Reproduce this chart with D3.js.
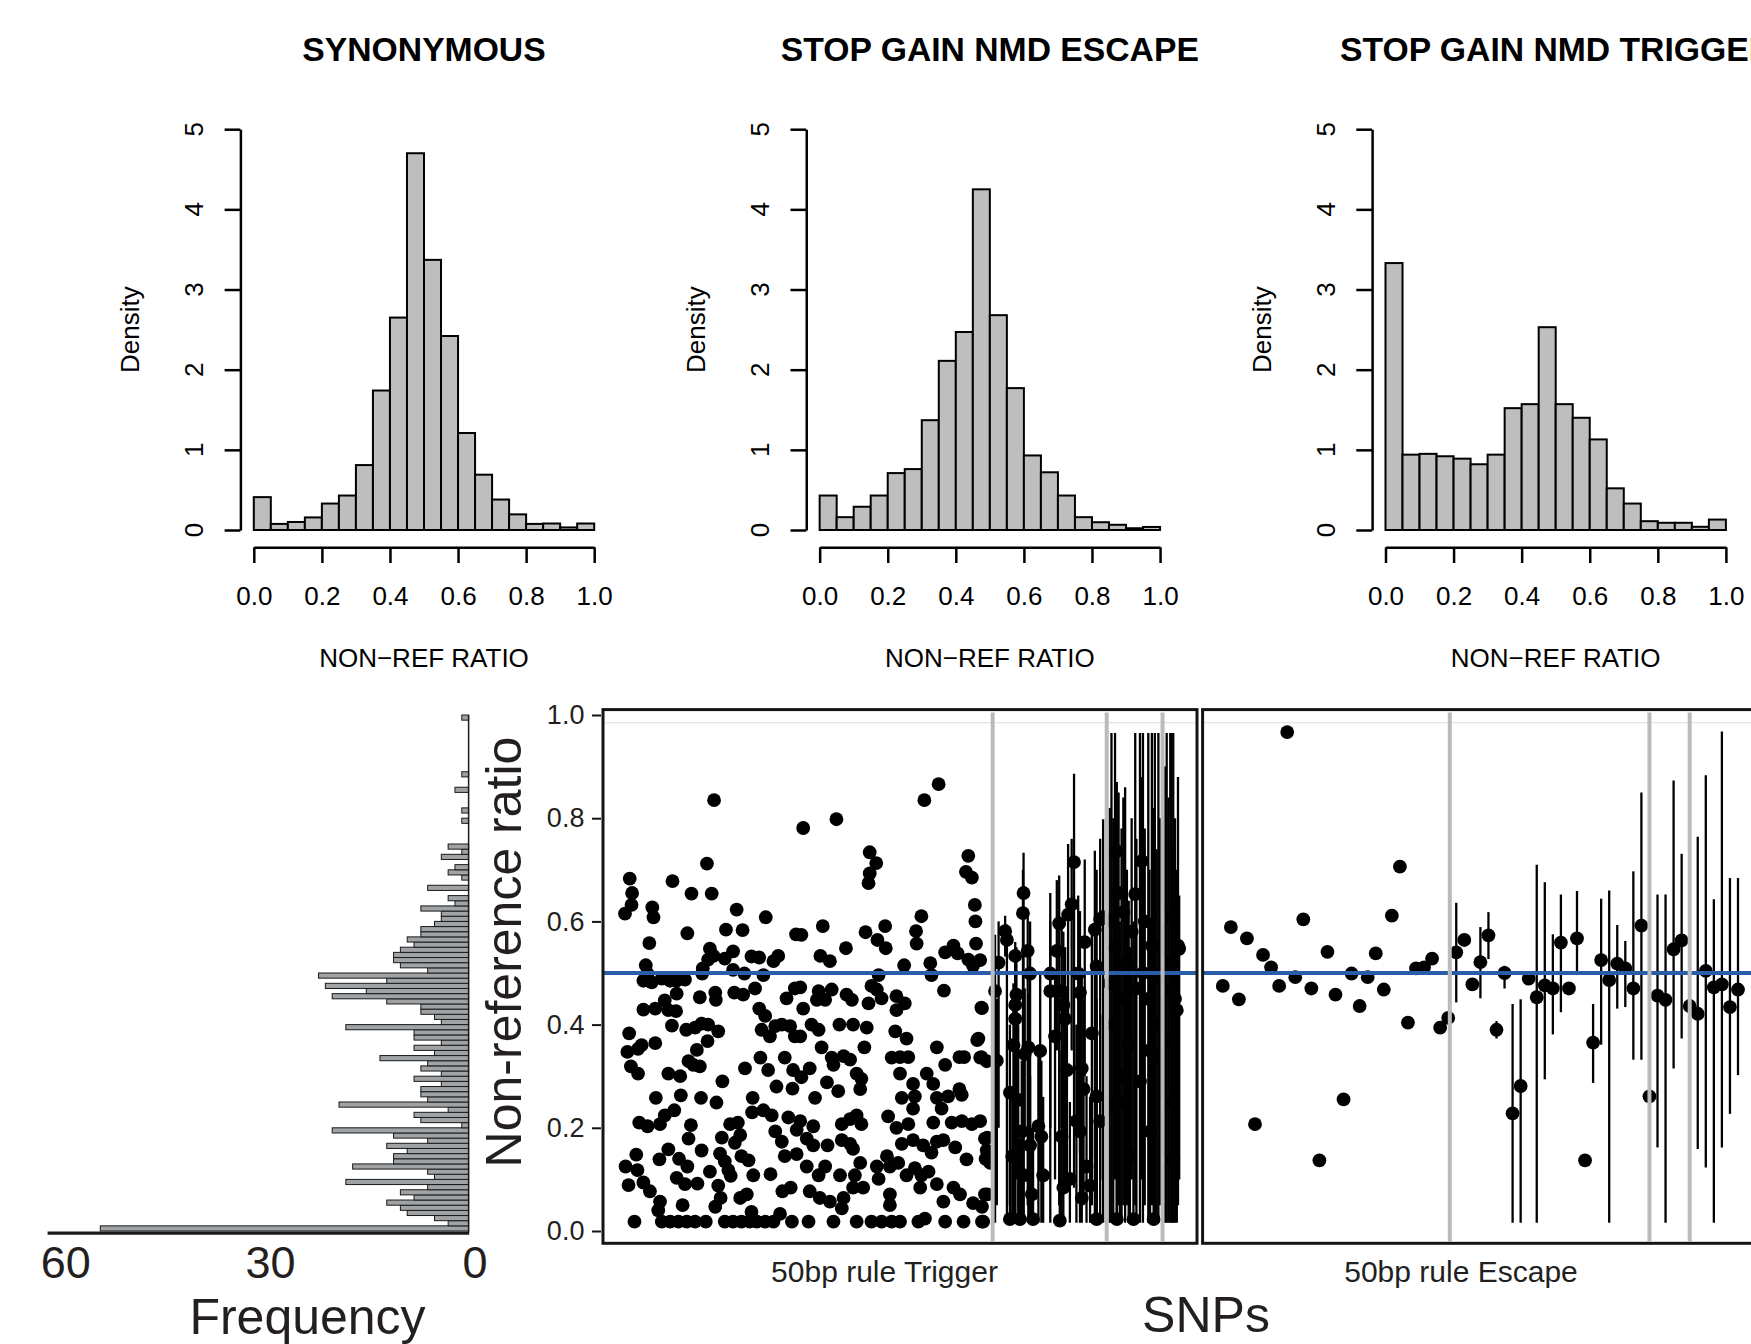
<!DOCTYPE html>
<html>
<head>
<meta charset="utf-8">
<script src="https://cdn.jsdelivr.net/npm/d3@7"></script>
<style>
html,body{margin:0;padding:0;background:#fff;}
svg{display:block;font-family:"Liberation Sans",Arial,Helvetica,sans-serif;}
</style>
</head>
<body>
<div id="fig"></div>
<script>
// ---- top row: density histograms, bins of 0.05 ----
const binStarts = [0,0.05,0.10,0.15,0.20,0.25,0.30,0.35,0.40,0.45,0.50,0.55,0.60,0.65,0.70,0.75,0.80,0.85,0.90,0.95];
const histTitles = ["SYNONYMOUS","STOP GAIN NMD ESCAPE","STOP GAIN NMD TRIGGER"];
const densSyn = [0.41,0.076,0.10,0.157,0.33,0.43,0.81,1.74,2.65,4.70,3.37,2.42,1.21,0.69,0.38,0.195,0.076,0.081,0.032,0.081];
const densEsc = [0.43,0.16,0.29,0.43,0.71,0.76,1.37,2.11,2.47,4.25,2.68,1.77,0.93,0.72,0.43,0.16,0.097,0.065,0.022,0.038];
const densTrig = [3.33,0.94,0.95,0.92,0.89,0.82,0.94,1.52,1.57,2.53,1.57,1.40,1.13,0.52,0.33,0.11,0.09,0.09,0.04,0.13];
const densTicks = [0,1,2,3,4,5];
const ratioTicks = [0,0.2,0.4,0.6,0.8,1.0];

// ---- bottom left: frequency of non-reference ratio, bins of 0.01 ----
const freqCounts = [54,3,5,9,10,12,8,10,6,18, 5,6,17,11,11,9,12,6,11,20,
  1,7,8,3,19,6,7,7,4,8, 4,7,6,13,5,8,4,8,8,18,
  4,5,7,7,12,20,15,21,12,22, 6,10,11,11,10,8,9,7,7,5,
  4,4,7,2,3,0,6,0,1,3, 2,0,4,1,3,0,0,0,0,1,
  0,1,0,0,0,2,0,0,1,0, 0,0,0,0,0,0,0,0,0,1];
const freqTicks = [0,30,60];

// ---- 50bp rule Trigger: [SNP rank (0-100), ratio] ----
const trigPoints = [
[18.7,.835],[17.5,.712],[4.5,.683],[4.9,.655],[4.8,.632],[3.7,.615],[11.7,.678],[14.9,.654],[18.3,.654],[8.3,.627],
[8.5,.608],[22.5,.623],[27.4,.608],[14.2,.577],[20.7,.584],[23.5,.583],[7.8,.558],[32.5,.575],[18.0,.547],[18.6,.533],
[17.7,.526],[21.9,.542],[20.5,.528],[25.0,.532],[26.3,.530],[28.7,.523],[29.5,.533],[7.2,.515],[7.5,.499],[16.8,.509],
[21.9,.506],[23.8,.499],[27.0,.496],[6.8,.485],[8.2,.482],[9.9,.489],[11.3,.485],[12.4,.485],[13.8,.487],[16.7,.499],
[12.4,.460],[16.3,.453],[18.9,.462],[19.0,.448],[22.1,.462],[23.6,.458],[25.6,.470],[32.3,.470],[30.9,.451],[10.4,.447],
[6.8,.429],[8.8,.431],[11.0,.428],[12.3,.426],[26.3,.431],[27.3,.417],[11.6,.398],[14.0,.390],[15.5,.394],[16.6,.402],
[17.7,.400],[19.4,.387],[26.7,.390],[28.1,.377],[29.0,.397],[30.1,.400],[31.5,.397],[32.3,.377],[4.4,.383],[4.1,.347],
[5.9,.353],[6.5,.360],[8.8,.364],[15.8,.351],[17.6,.368],[4.7,.319],[5.9,.305],[14.4,.329],[15.2,.322],[16.3,.319],
[26.5,.336],[27.8,.312],[30.6,.336],[32.0,.312],[23.9,.315],[11.0,.305],[13.0,.300],[20.1,.290],[29.2,.280],[31.9,.276],
[8.9,.258],[13.1,.263],[16.5,.258],[19.1,.249],[25.2,.258],[25.1,.230],[27.0,.234],[28.4,.224],[6.1,.210],[7.5,.203],
[9.6,.207],[10.4,.224],[12.0,.234],[14.8,.205],[14.4,.179],[21.4,.207],[22.7,.210],[23.1,.186],[22.2,.171],[20.0,.181],
[29.0,.193],[30.1,.173],[31.2,.220],[32.6,.196],[5.6,.148],[3.8,.125],[5.8,.118],[4.3,.089],[6.8,.094],[7.9,.077],
[9.5,.139],[11.0,.158],[12.8,.140],[14.2,.125],[12.4,.103],[13.8,.091],[15.9,.092],[16.6,.156],[18.0,.115],[19.7,.150],
[20.5,.135],[21.1,.118],[21.5,.107],[23.3,.145],[24.5,.137],[25.3,.108],[28.2,.110],[19.4,.088],[19.8,.064],[23.1,.064],
[24.2,.071],[30.6,.145],[32.6,.149],[30.2,.077],[31.6,.084],[9.6,.057],[9.3,.040],[13.4,.050],[29.8,.033],[25.0,.037],
[18.9,.047],[5.3,.018],[9.9,.018],[11.3,.018],[12.7,.018],[14.1,.018],[15.5,.018],[17.3,.018],[20.5,.018],[21.9,.018],
[23.3,.018],[24.7,.018],[25.9,.018],[27.3,.018],[28.7,.018],[31.8,.018],
[33.7,.781],[39.3,.798],[54.1,.835],[56.5,.866],[44.9,.734],[46.0,.713],[44.9,.693],[44.7,.674],[61.5,.727],[61.1,.696],
[62.1,.685],[62.6,.632],[62.7,.600],[62.8,.557],[53.6,.610],[52.7,.581],[52.8,.557],[37.0,.591],[40.9,.548],[44.2,.579],
[46.2,.564],[47.5,.591],[47.6,.548],[33.4,.574],[36.6,.533],[38.2,.523],[50.7,.515],[55.1,.519],[55.3,.496],[57.6,.540],
[59.0,.553],[59.7,.538],[61.5,.526],[62.3,.514],[63.5,.525],[46.4,.496],[33.2,.472],[36.3,.465],[36.0,.448],[37.4,.448],
[38.5,.468],[41.0,.458],[41.9,.448],[45.2,.475],[46.1,.468],[46.9,.451],[44.7,.441],[49.4,.455],[50.8,.441],[49.4,.428],
[57.4,.466],[63.8,.432],[33.7,.431],[35.1,.400],[36.3,.390],[39.8,.400],[42.1,.400],[44.4,.394],[49.2,.387],[51.1,.373],
[33.2,.377],[36.8,.356],[44.0,.356],[38.5,.336],[40.5,.339],[41.6,.332],[38.8,.322],[48.6,.336],[50.0,.337],[51.4,.337],
[50.0,.305],[56.2,.356],[57.6,.322],[60.0,.337],[60.8,.337],[63.2,.373],[63.5,.336],[64.6,.329],[34.8,.315],[33.4,.298],
[37.7,.288],[39.6,.271],[42.7,.305],[43.5,.295],[43.3,.275],[52.2,.285],[54.5,.305],[55.6,.285],[35.7,.258],[50.3,.258],
[52.5,.261],[52.2,.237],[56.2,.258],[57.0,.237],[58.1,.261],[60.0,.275],[60.4,.264],[33.2,.213],[35.4,.203],[34.3,.179],
[35.4,.166],[40.2,.207],[41.6,.217],[42.7,.224],[43.5,.207],[40.2,.176],[41.6,.169],[42.1,.159],[37.8,.166],[48.0,.222],
[49.4,.200],[51.4,.207],[50.3,.169],[52.2,.176],[53.9,.166],[55.3,.152],[56.2,.173],[57.3,.176],[55.6,.210],[58.7,.210],
[60.4,.213],[62.1,.207],[63.5,.213],[59.3,.162],[61.2,.139],[64.3,.179],[64.6,.156],[65.2,.132],[34.3,.125],[36.3,.108],
[37.4,.125],[39.9,.108],[43.3,.132],[42.4,.108],[46.1,.125],[46.4,.101],[47.8,.145],[48.3,.125],[49.7,.132],[51.1,.108],
[52.5,.122],[53.6,.108],[54.8,.115],[34.8,.077],[36.5,.064],[38.2,.057],[40.5,.064],[42.1,.084],[43.8,.084],[48.3,.071],
[48.3,.050],[53.4,.084],[56.2,.091],[57.3,.057],[59.0,.084],[60.1,.071],[62.3,.054],[63.8,.047],[64.3,.071],[40.2,.044],
[34.6,.018],[38.8,.018],[42.7,.018],[45.2,.018],[46.9,.018],[48.6,.018],[50.0,.018],[53.1,.018],[54.2,.024],[57.6,.018],
[60.7,.018],[63.8,.018],[63.7,.433],[63.0,.370],[63.7,.337],[64.7,.181],[64.4,.140],[64.7,.071],[64.0,.018]
];
// low-coverage Trigger SNPs with intervals: [rank, ratio, low, high]
const trigErr = [
[66.0,.465,.016,.574],[66.3,.330,.050,.450],[66.6,.520,.200,.600],
[67.7,.581,.532,.611],[68.0,.564,.016,.594],[69.4,.533,.016,.560],[69.6,.458,.100,.550],[69.4,.438,.016,.520],[69.4,.411,.200,.550],
[70.8,.655,.016,.733],[70.7,.616,.300,.700],[71.5,.543,.050,.620],[71.9,.499,.016,.600],[69.1,.360,.016,.480],[71.0,.343,.200,.470],
[71.6,.356,.016,.460],[68.5,.268,.050,.400],[69.9,.254,.016,.400],[68.9,.145,.016,.280],[70.8,.108,.016,.230],[70.5,.193,.016,.330],
[71.9,.166,.016,.300],[72.2,.071,.016,.200],[68.5,.023,.016,.150],[70.2,.023,.016,.180],[72.4,.023,.016,.200],
[73.6,.349,.100,.500],[73.3,.203,.016,.350],[73.8,.183,.016,.330],[74.1,.108,.016,.260],[75.3,.499,.016,.655],[75.3,.465,.200,.600],
[76.1,.377,.100,.500],[76.4,.543,.350,.680],[76.8,.596,.050,.689],[77.2,.465,.200,.600],[77.5,.438,.200,.580],[77.8,.411,.100,.550],
[78.3,.613,.400,.750],[78.9,.633,.350,.760],[79.3,.715,.084,.886],[77.2,.183,.016,.350],[78.1,.312,.100,.470],[78.6,.101,.016,.250],
[77.5,.084,.016,.220],[76.9,.020,.016,.180],
[80.0,.499,.200,.650],[80.3,.462,.150,.620],[80.6,.315,.050,.500],[80.9,.275,.050,.450],[79.7,.213,.016,.400],[80.3,.193,.016,.370],
[81.4,.125,.016,.300],[82.0,.088,.016,.260],[80.6,.064,.016,.250],[81.1,.560,.300,.720],[82.8,.584,.016,.737],[83.7,.604,.100,.760],
[83.1,.513,.050,.700],[82.3,.383,.050,.580],[83.1,.261,.016,.450],[83.1,.023,.016,.220],[84.2,.608,.016,.798],[83.7,.213,.016,.420],
[85.3,.480,.016,.820],[85.6,.600,.016,.965],[85.9,.400,.016,.800],[86.2,.550,.100,.965],[86.5,.736,.100,.870],[86.8,.655,.050,.850],
[87.6,.618,.050,.840],[86.5,.247,.016,.550],[87.0,.251,.016,.600],[86.5,.023,.016,.450],[87.3,.300,.016,.780],[87.9,.450,.016,.860],
[88.2,.520,.050,.700],[88.5,.360,.016,.640],[88.7,.145,.016,.550],[89.0,.580,.100,.800],[89.3,.023,.016,.600],[89.6,.653,.050,.965],
[89.8,.470,.016,.760],[90.4,.290,.016,.965],[90.7,.717,.100,.880],[90.9,.500,.016,.965],[91.2,.600,.050,.780],[91.8,.450,.016,.965],
[92.0,.350,.016,.700],[92.1,.193,.016,.600],[92.4,.553,.050,.965],[92.7,.023,.016,.820],[92.9,.490,.016,.965],[93.2,.339,.016,.740],
[93.5,.400,.016,.965],[93.8,.550,.050,.800],[94.6,.609,.016,.900],[94.9,.506,.016,.965],[95.2,.465,.016,.840],[95.5,.370,.016,.965],
[95.7,.520,.016,.965],[96.0,.250,.016,.965],[96.0,.139,.016,.750],[96.3,.450,.016,.800],[96.6,.428,.016,.700],[96.8,.553,.050,.880],
[97.0,.547,.100,.650]
];
const trigCuts = [65.6,84.8,94.2];

// ---- 50bp rule Escape: ratio per SNP (1..65) and intervals [snp, low, high] ----
const escVals = [.475,.589,.449,.567,.207,.535,.511,.475,.967,.492,.604,.470,.137,.541,.458,.255,.499,.436,.492,.538,
  .468,.611,.706,.404,.509,.511,.528,.394,.413,.540,.564,.478,.521,.573,.390,.500,.228,.281,.489,.453,
  .476,.470,.559,.470,.567,.137,.365,.525,.486,.518,.509,.470,.592,.261,.456,.448,.546,.563,.436,.421,
  .504,.472,.478,.434,.468];
const escBars = [[30,.443,.636],[33,.451,.589],[34,.527,.618],[35,.373,.407],[36,.470,.514],[37,.016,.440],[38,.016,.449],
  [40,.016,.710],[41,.294,.676],[42,.381,.575],[43,.424,.652],[45,.496,.659],[47,.287,.440],[48,.361,.644],[49,.016,.660],
  [50,.431,.593],[51,.434,.562],[52,.332,.697],[53,.332,.850],[55,.162,.652],[56,.016,.652],[57,.315,.873],[58,.373,.731],
  [60,.159,.764],[61,.123,.883],[62,.016,.643],[63,.162,.968],[64,.227,.684],[65,.302,.684]];
const escCuts = [29.2,54,59];
const expectedRatio = 0.5;

const width = 1751;
const height = 1344;
const ink = "#231f20";

const svg = d3.select("#fig")
.append("svg")
.attr("width",width)
.attr("height",height)
.attr("viewBox",`0 0 ${width} ${height}`);

// ================= top row =================
const dens = [densSyn,densEsc,densTrig];
const yD = d3.scaleLinear().domain([0,5]).range([530,129.2]);

dens.forEach((vals,i)=>{
const left = 253.8 + i*565.85;
const x = d3.scaleLinear().domain([0,1]).range([left,left+340.4]);
const g = svg.append("g");

g.selectAll("rect")
.data(binStarts)
.enter()
.append("rect")
.attr("x",d=>x(d))
.attr("y",(d,j)=>yD(vals[j]))
.attr("width",x(0.05)-x(0))
.attr("height",(d,j)=>yD(0)-yD(vals[j]))
.attr("fill","#bebebe")
.attr("stroke","#000")
.attr("stroke-width",2);

const xa = g.append("g")
.attr("transform","translate(0,547.3)")
.call(d3.axisBottom(x).tickValues(ratioTicks).tickFormat(d3.format(".1f")).tickSize(15.7).tickSizeOuter(0).tickPadding(24));
xa.selectAll("path,line").attr("stroke","#000").attr("stroke-width",2.5);
xa.selectAll("text").attr("font-size",26).attr("fill","#000").attr("font-family","Liberation Sans, Arial, sans-serif");

const ax = left-13.4;
const ya = g.append("g")
.attr("transform",`translate(${ax},0)`)
.call(d3.axisLeft(yD).tickValues(densTicks).tickFormat("").tickSize(15.8).tickSizeOuter(0));
ya.selectAll("path,line").attr("stroke","#000").attr("stroke-width",2.5);

g.selectAll(".ylab")
.data(densTicks)
.enter()
.append("text")
.attr("transform",d=>`translate(${ax-37},${yD(d)}) rotate(-90)`)
.attr("text-anchor","middle")
.attr("font-size",26)
.text(d=>d);

g.append("text")
.attr("transform",`translate(${ax-101},${(yD(0)+yD(5))/2}) rotate(-90)`)
.attr("text-anchor","middle")
.attr("font-size",26)
.text("Density");

g.append("text")
.attr("x",(x(0)+x(1))/2)
.attr("y",667)
.attr("text-anchor","middle")
.attr("font-size",26)
.text("NON\u2212REF RATIO");

g.append("text")
.attr("x",i<2 ? (x(0)+x(1))/2 : 1340)
.attr("y",60.5)
.attr("text-anchor",i<2 ? "middle" : "start")
.attr("font-size",33.7)
.attr("font-weight","bold")
.text(histTitles[i]);
});

// ================= bottom row =================
const yR = d3.scaleLinear().domain([0,1]).range([1231,715]);
const freqX = d3.scaleLinear().domain([0,61.8]).range([468.6,47.1]);
const binW = 0.01;

// frequency histogram (horizontal)
const fg = svg.append("g");
fg.selectAll("rect")
.data(freqCounts.map((c,k)=>({c:c,k:k})).filter(d=>d.c>0))
.enter()
.append("rect")
.attr("x",d=>freqX(d.c))
.attr("y",d=>yR((d.k+1)*binW))
.attr("width",d=>freqX(0)-freqX(d.c))
.attr("height",d=>yR(d.k*binW)-yR((d.k+1)*binW))
.attr("fill","#a0a3a6")
.attr("stroke","#1a1a1a")
.attr("stroke-width",1);

fg.append("line")
.attr("x1",freqX(0)).attr("x2",freqX(0))
.attr("y1",yR(1)).attr("y2",1232.7)
.attr("stroke","#1a1a1a").attr("stroke-width",1.5);

const fa = fg.append("g")
.attr("transform","translate(0,1232.7)")
.call(d3.axisBottom(freqX).tickValues(freqTicks).tickSize(0).tickSizeOuter(0).tickPadding(13));
fa.select("path").attr("stroke","#1a1a1a").attr("stroke-width",3.2);
fa.selectAll("text").attr("font-size",45).attr("fill",ink).attr("dx",6).attr("font-family","Liberation Sans, Arial, sans-serif");

fg.append("text")
.attr("x",307.5).attr("y",1334)
.attr("text-anchor","middle")
.attr("font-size",50)
.attr("fill",ink)
.text("Frequency");

// scatter panels
const xA = d3.scaleLinear().domain([0,100]).range([603,1197]);
const xB = d3.scaleLinear().domain([1,65]).range([1222.8,1738]);
const boxTop = 709.6, boxBot = 1243.3;

function panel(x,x0,x1,pts,bars,cuts,label,labelX){
const g = svg.append("g");
g.append("line")
.attr("x1",x0).attr("x2",x1)
.attr("y1",yR(0.985)).attr("y2",yR(0.985))
.attr("stroke","#dcdcdc").attr("stroke-width",1);

g.selectAll(".eb")
.data(bars)
.enter()
.append("line")
.attr("x1",d=>x(d[0])).attr("x2",d=>x(d[0]))
.attr("y1",d=>yR(d[1])).attr("y2",d=>yR(d[2]))
.attr("stroke","#000").attr("stroke-width",2.3);

g.selectAll("circle")
.data(pts)
.enter()
.append("circle")
.attr("cx",d=>x(d[0]))
.attr("cy",d=>yR(d[1]))
.attr("r",6.9)
.attr("fill","#000");

g.append("line")
.attr("x1",x0).attr("x2",x1)
.attr("y1",yR(expectedRatio)).attr("y2",yR(expectedRatio))
.attr("stroke","#2b5ca8").attr("stroke-width",4);

g.selectAll(".cut")
.data(cuts)
.enter()
.append("line")
.attr("x1",d=>x(d)).attr("x2",d=>x(d))
.attr("y1",boxTop+3).attr("y2",boxBot-2)
.attr("stroke","#b9bcbd").attr("stroke-width",4);

g.append("rect")
.attr("x",x0).attr("y",boxTop)
.attr("width",x1-x0).attr("height",boxBot-boxTop)
.attr("fill","none")
.attr("stroke","#141414").attr("stroke-width",3);

g.append("text")
.attr("x",labelX).attr("y",1282)
.attr("text-anchor","middle")
.attr("font-size",30)
.attr("fill",ink)
.text(label);
}

panel(xA,603,1197,trigPoints.concat(trigErr),trigErr.map(d=>[d[0],d[2],d[3]]),trigCuts,"50bp rule Trigger",884.5);
panel(xB,1202.6,1765,escVals.map((v,i)=>[i+1,v]),escBars,escCuts,"50bp rule Escape",1461);

const ra = svg.append("g")
.attr("transform","translate(601,0)")
.call(d3.axisLeft(yR).tickValues(ratioTicks).tickFormat(d3.format(".1f")).tickSize(9).tickSizeOuter(0).tickPadding(7.6));
ra.select("path").remove();
ra.selectAll("line").attr("stroke","#141414").attr("stroke-width",2);
ra.selectAll("text").attr("font-size",27).attr("fill",ink).attr("font-family","Liberation Sans, Arial, sans-serif");

svg.append("text")
.attr("transform","translate(521,952) rotate(-90)")
.attr("text-anchor","middle")
.attr("font-size",50)
.attr("fill",ink)
.text("Non-reference ratio");

svg.append("text")
.attr("x",1206).attr("y",1332)
.attr("text-anchor","middle")
.attr("font-size",50)
.attr("fill",ink)
.text("SNPs");
</script>
</body>
</html>
